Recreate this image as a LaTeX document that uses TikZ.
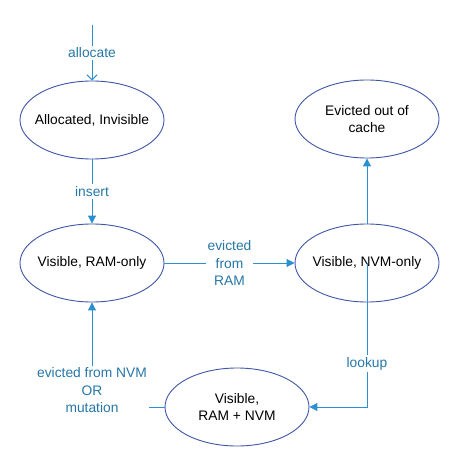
\documentclass[tikz,border=0pt]{standalone}
\usepackage{fontspec}
\setmainfont{Liberation Sans}
\usetikzlibrary{arrows.meta, shapes.geometric}

\begin{document}
\begin{tikzpicture}[x=1pt, y=-1pt,
  state/.style={ellipse, draw=stateblue, fill=white, line width=0.9pt,
    minimum width=144pt, minimum height=78pt, inner xsep=-12pt, inner ysep=0pt,
    align=center, font=\fontsize{13.8}{17}\selectfont},
  edge/.style={draw=edgeblue, line width=1pt, -{Triangle[width=8pt, length=8pt]}},
  lbl/.style={fill=white, text=labelblue, inner sep=2pt, align=center,
    font=\fontsize{13.8}{17.5}\selectfont}]

  % Define custom colors
  \definecolor{stateblue}{HTML}{3F56A6}
  \definecolor{edgeblue}{HTML}{2B8FD0}
  \definecolor{labelblue}{HTML}{2677A8}
  % Canvas
  \useasboundingbox (0,0) rectangle (454,457);
  % States
  \node[state] (alc) at (92,120) {Allocated, Invisible};
  \node[state] (ram) at (92,263) {Visible, RAM-only};
  \node[state] (nvm) at (367,263) {Visible, NVM-only};
  \node[state] (evc) at (367,119) {Evicted out of\\cache};
  \node[state] (rn) at (237,407) {Visible,\\RAM + NVM};
  \coordinate (start) at (92,25);
  % Transitions
  \draw[edge, -{Straight Barb[width=10pt, length=5pt]}] (start) -- node[lbl] {allocate} (alc);
  \draw[edge] (alc) -- node[lbl] {insert} (ram);
  \draw[edge] (ram) -- node[lbl] {evicted\\from\\RAM} (nvm);
  \draw[edge] (nvm) -- (evc);
  \draw[edge] (nvm.center) |- node[lbl, pos=0.35] {lookup} (rn);
  \draw[edge] (rn) -| node[lbl, pos=0.58] {evicted from NVM\\OR\\mutation} (ram);

\end{tikzpicture}
\end{document}
